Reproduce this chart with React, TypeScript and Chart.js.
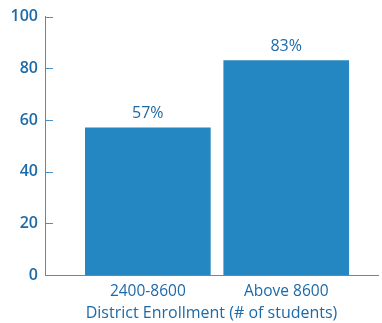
import React, { useEffect, useRef } from "react";
import { Chart, registerables } from "chart.js";

Chart.register(...registerables);

const categories = ["2400-8600", "Above 8600"];
const values = [57, 83];
const yTicks = [0, 20, 40, 60, 80, 100];
const axisTitle = "District Enrollment (# of students)";

const BAR = "#2487c1";
const TEXT = "#1c6aa8";
const LINE = "#4a90c6";
const FONT = "'Open Sans', 'Noto Sans', sans-serif";

const overlay = {
  id: "overlay",
  afterDatasetsDraw(chart: any) {
    const ctx = chart.ctx;
    const y = chart.scales.y;
    const area = chart.chartArea;
    ctx.save();
    ctx.strokeStyle = LINE;
    ctx.lineWidth = 1;
    yTicks.forEach((t) => {
      const py = Math.round(y.getPixelForValue(t)) + 0.5;
      ctx.beginPath();
      ctx.moveTo(area.left, py);
      ctx.lineTo(area.left + 8, py);
      ctx.stroke();
    });
    const meta = chart.getDatasetMeta(0);
    ctx.fillStyle = TEXT;
    ctx.font = `16px ${FONT}`;
    ctx.textAlign = "center";
    ctx.textBaseline = "middle";
    meta.data.forEach((bar: any, i: number) => {
      ctx.fillText(values[i] + "%", bar.x, bar.y - 14);
    });
    ctx.restore();
  },
};

export default function App() {
  const ref = useRef<HTMLCanvasElement>(null);
  useEffect(() => {
    document.body.style.margin = "0";
    const chart = new Chart(ref.current!, {
      type: "bar",
      data: {
        datasets: [
          {
            data: categories.map((c, i) => ({ x: i + 1, y: values[i] })),
            backgroundColor: BAR,
            barThickness: 125,
          },
        ],
      },
      options: {
        animation: false,
        responsive: false,
        layout: { padding: { top: 14, right: 4, left: 0, bottom: 0 } },
        plugins: { legend: { display: false }, tooltip: { enabled: false } },
        scales: {
          x: {
            type: "linear",
            offset: false,
            min: 0.257,
            max: 2.663,
            grid: { display: false, offset: false, drawTicks: false },
            border: { display: true, color: LINE, width: 1 },
            afterBuildTicks: (s: any) => {
              s.ticks = categories.map((c, i) => ({ value: i + 1 }));
            },
            ticks: {
              color: TEXT,
              font: { family: FONT, size: 15.5 },
              padding: 7,
              maxRotation: 0,
              autoSkip: false,
              callback: (v: any) => categories[Math.round(v) - 1] ?? "",
            },
            title: {
              display: true,
              text: axisTitle,
              color: TEXT,
              font: { family: FONT, size: 16 },
              padding: { top: 0, bottom: 0 },
            },
            afterFit: (s: any) => {
              s.height = 48;
            },
          },
          y: {
            min: 0,
            max: 100,
            afterBuildTicks: (s: any) => {
              s.ticks = yTicks.map((v) => ({ value: v }));
            },
            grid: { display: false, drawTicks: false },
            border: { display: true, color: LINE, width: 1 },
            ticks: {
              color: TEXT,
              font: { family: FONT, size: 16, weight: "600" },
              padding: 7,
            },
            afterFit: (s: any) => {
              s.width = 45;
            },
          },
        },
      },
      plugins: [overlay],
    });
    return () => chart.destroy();
  }, []);
  return (
    <div style={{ width: 382, height: 323 }}>
      <canvas ref={ref} width={382} height={323} />
    </div>
  );
}
